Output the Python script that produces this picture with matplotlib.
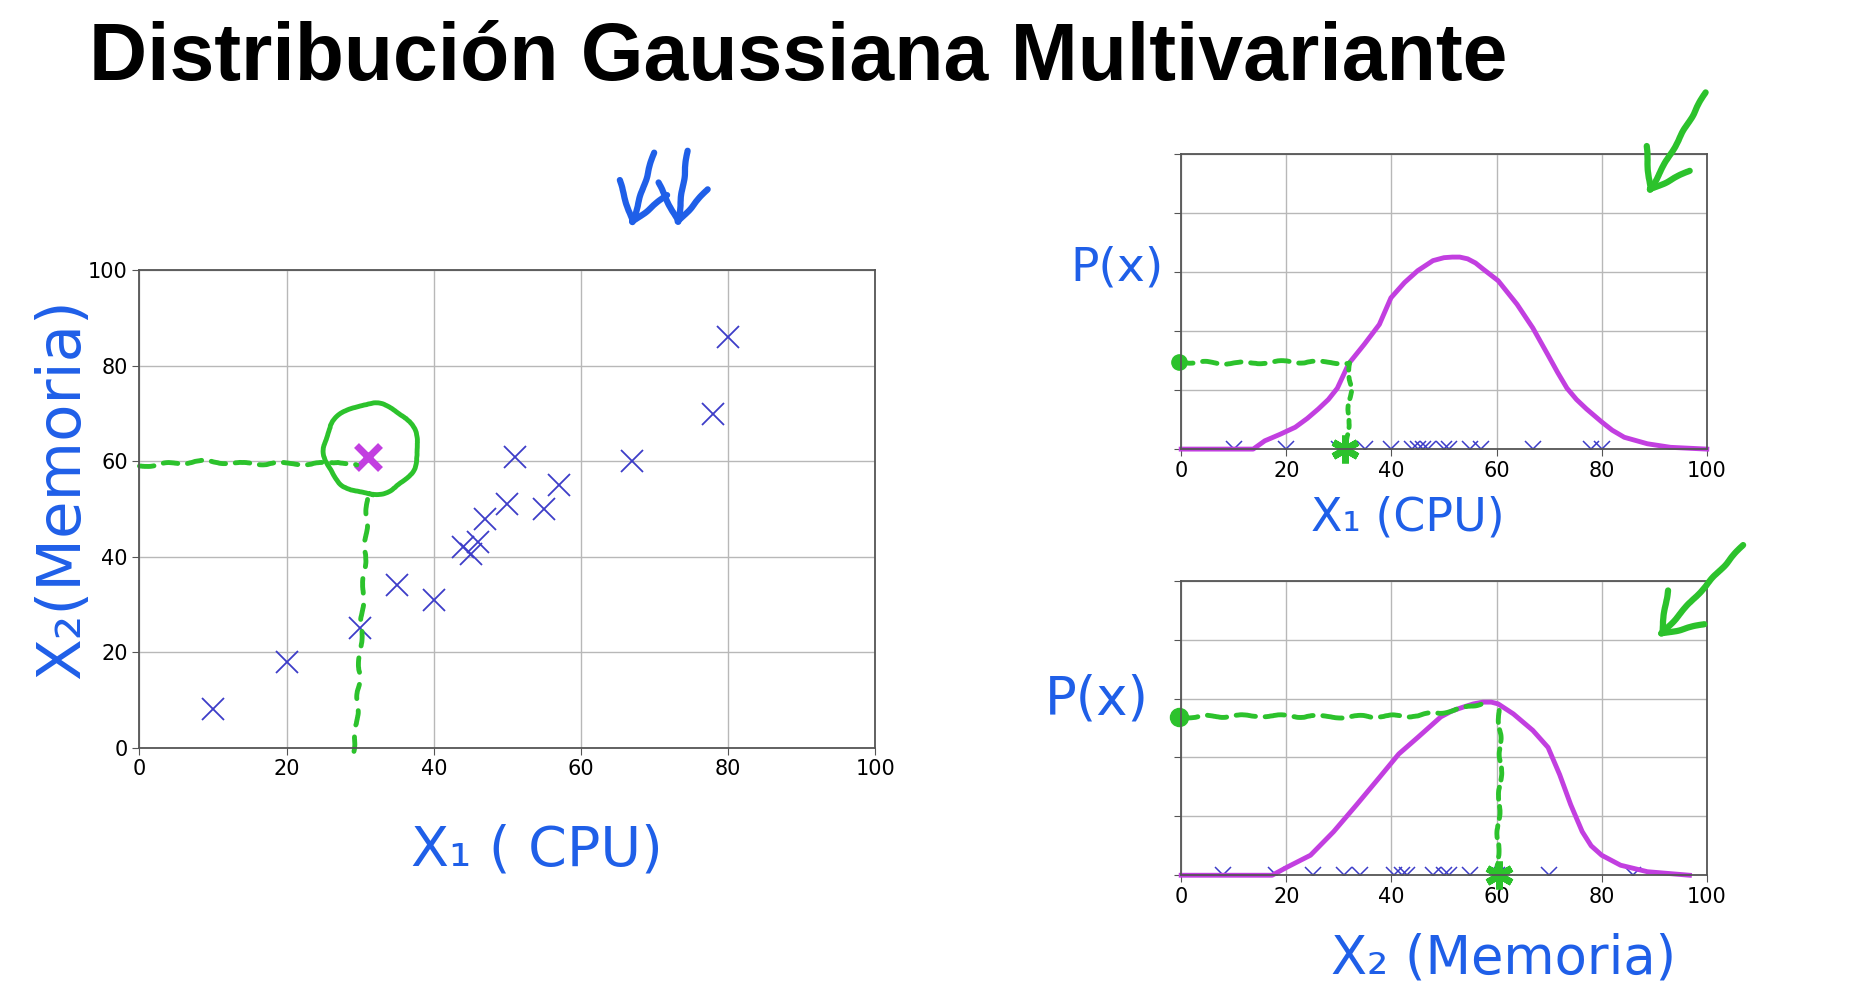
import matplotlib
matplotlib.use("Agg")
import matplotlib.pyplot as plt
from matplotlib.patches import Ellipse, FancyArrowPatch

# scatter data (x1 = CPU, x2 = Memoria)
CPU = [10, 20, 30, 35, 40, 44, 45, 46, 47, 50, 51, 55, 57, 67, 78, 80]
MEM = [8, 18, 25, 34, 31, 42, 40.5, 43, 48, 51, 61, 50, 55, 60, 70, 86]
NEW_POINT = (31, 61)

# hand-traced p(x) curves (y in grid units, 0..5)
PX1_X = [0, 13.7, 15.9, 18.8, 21.7, 24.0, 26.1, 28.0, 29.7, 31.9, 34.8, 37.7,
         39.9, 42.5, 45.0, 47.9, 50.0, 51.6, 53.0, 54.5, 56.0, 57.4, 60.3,
         63.9, 66.9, 69.8, 71.6, 73.4, 75.2, 77.1, 80.0, 82.0, 84.3, 88.7,
         93.1, 100]
PX1_Y = [0, 0, 0.14, 0.25, 0.37, 0.52, 0.68, 0.84, 1.03, 1.45, 1.77, 2.11,
         2.56, 2.82, 3.02, 3.19, 3.24, 3.25, 3.25, 3.22, 3.15, 3.05, 2.85,
         2.45, 2.05, 1.59, 1.30, 1.03, 0.84, 0.68, 0.46, 0.32, 0.20, 0.09,
         0.03, 0]
PX2_X = [0, 17.3, 20.2, 24.6, 29.0, 33.4, 37.7, 41.4, 45.0, 49.4, 51.5, 53.8,
         55.6, 57.4, 59.0, 60.3, 63.2, 66.9, 69.8, 72.0, 74.1, 76.3, 78.0,
         80.0, 83.6, 88.7, 96.7]
PX2_Y = [0, 0, 0.14, 0.34, 0.74, 1.2, 1.66, 2.06, 2.34, 2.69, 2.79, 2.86,
         2.91, 2.94, 2.94, 2.91, 2.74, 2.46, 2.17, 1.71, 1.2, 0.74, 0.50,
         0.34, 0.17, 0.06, 0]

TICKS = [0, 20, 40, 60, 80, 100]
PX_TICKS = [0, 1, 2, 3, 4, 5]

BLUE_X = "#3d3dc8"
MAGENTA = "#c23fe0"
GREEN = "#2cc22c"
INK = "#1f5fe8"
SKETCH = (1.2, 40, 2)


def style_axes(ax):
    ax.grid(True, color="#b8b8b8", linewidth=1)
    ax.set_axisbelow(True)
    for s in ax.spines.values():
        s.set_color("#555555")
        s.set_linewidth(1.3)
    ax.tick_params(labelsize=15, color="#555555", length=5)
    ax.set_xlim(0, 100)
    ax.set_xticks(TICKS)


def green_line(ax, xs, ys, dashes=(3, 2), lw=3.5):
    ln, = ax.plot(xs, ys, color=GREEN, lw=lw, linestyle=(0, dashes),
                  clip_on=False, solid_capstyle="round", dash_capstyle="round")
    ln.set_sketch_params(*SKETCH)
    return ln


fig = plt.figure(figsize=(18.52, 9.98), dpi=100)

fig.text(0.048, 0.92, "Distribución Gaussiana Multivariante", fontsize=58,
         fontweight="bold", family="Liberation Sans", va="baseline")

# ---- left scatter ----
ax = fig.add_axes([0.0753, 0.251, 0.3973, 0.478])
style_axes(ax)
ax.set_ylim(0, 100)
ax.set_yticks(TICKS)
ax.plot(CPU, MEM, "x", color=BLUE_X, ms=16, mew=1.3)
ax.plot(*NEW_POINT, "x", color=MAGENTA, ms=17, mew=5)
green_line(ax, [0, 4, 9, 14, 20, 25, 27, 29.5],
           [59, 59.5, 60, 59.5, 59.5, 59.5, 60, 59], dashes=(3, 2))
circ = Ellipse((31.5, 62.6), 12.8, 19, fill=False, ec=GREEN, lw=3.5)
circ.set_sketch_params(*SKETCH)
ax.add_patch(circ)
green_line(ax, [31, 30.5, 30, 29.5, 29], [52, 35, 20, 5, -1], dashes=(3, 2.5))

# ---- top right: p(x1) ----
ax1 = fig.add_axes([0.6378, 0.550, 0.2838, 0.296])
style_axes(ax1)
ax1.set_ylim(0, 5)
ax1.set_yticks(PX_TICKS)
ax1.set_yticklabels([])
ax1.plot(CPU, [0] * len(CPU), "x", color=BLUE_X, ms=12, mew=1.1)
ax1.plot(PX1_X, PX1_Y, color=MAGENTA, lw=3.5, clip_on=False)
green_line(ax1, [-0.5, 10, 20, 32], [1.48, 1.45, 1.48, 1.46])
green_line(ax1, [32, 32.2, 31.8, 31.5], [1.46, 1.0, 0.5, 0.05], dashes=(1.5, 1.5))
ax1.plot([-0.5], [1.48], "o", color=GREEN, ms=11, clip_on=False)
ax1.plot([31.2], [0], marker=(6, 2, 0), color=GREEN, ms=20, mew=5, clip_on=False)

# ---- bottom right: p(x2) ----
ax2 = fig.add_axes([0.6378, 0.123, 0.2838, 0.295])
style_axes(ax2)
ax2.set_ylim(0, 5)
ax2.set_yticks(PX_TICKS)
ax2.set_yticklabels([])
ax2.plot(MEM, [0] * len(MEM), "x", color=BLUE_X, ms=12, mew=1.1)
ax2.plot(PX2_X, PX2_Y, color=MAGENTA, lw=3.5, clip_on=False)
green_line(ax2, [-0.5, 15, 30, 45, 52, 57],
           [2.69, 2.71, 2.69, 2.71, 2.8, 2.92], dashes=(4, 2))
green_line(ax2, [60.5, 60.8, 60.3, 60.2], [2.8, 1.8, 0.8, 0.05], dashes=(2.5, 1.5))
ax2.plot([-0.5], [2.69], "o", color=GREEN, ms=13, clip_on=False)
ax2.plot([60.5], [0], marker=(6, 2, 0), color=GREEN, ms=20, mew=5, clip_on=False)

# ---- handwritten labels ----
ink = dict(color=INK, family="DejaVu Sans", ha="center", va="center")
fig.text(0.034, 0.510, "X₂(Memoria)", fontsize=44, rotation=90, **ink)
fig.text(0.290, 0.148, "X₁ ( CPU)", fontsize=40, **ink)
fig.text(0.603, 0.731, "P(x)", fontsize=34, **ink)
fig.text(0.592, 0.299, "P(x)", fontsize=38, **ink)
fig.text(0.760, 0.481, "X₁ (CPU)", fontsize=33, **ink)
fig.text(0.812, 0.040, "X₂ (Memoria)", fontsize=38, **ink)


def hand_arrow(tail, tip, color):
    W, H = 1852, 998
    a = fig.add_artist(FancyArrowPatch(
        (tail[0] / W, 1 - tail[1] / H), (tip[0] / W, 1 - tip[1] / H),
        transform=fig.transFigure, arrowstyle="->,head_length=1.3,head_width=0.9",
        color=color, lw=4.5, mutation_scale=20, capstyle="round",
        joinstyle="round"))
    a.set_sketch_params(0.6, 40, 2)


hand_arrow((655, 150), (630, 230), INK)
hand_arrow((688, 148), (677, 230), INK)
hand_arrow((1707, 90), (1646, 197), GREEN)
hand_arrow((1745, 543), (1656, 640), GREEN)

fig.savefig("out.png", dpi=100)
